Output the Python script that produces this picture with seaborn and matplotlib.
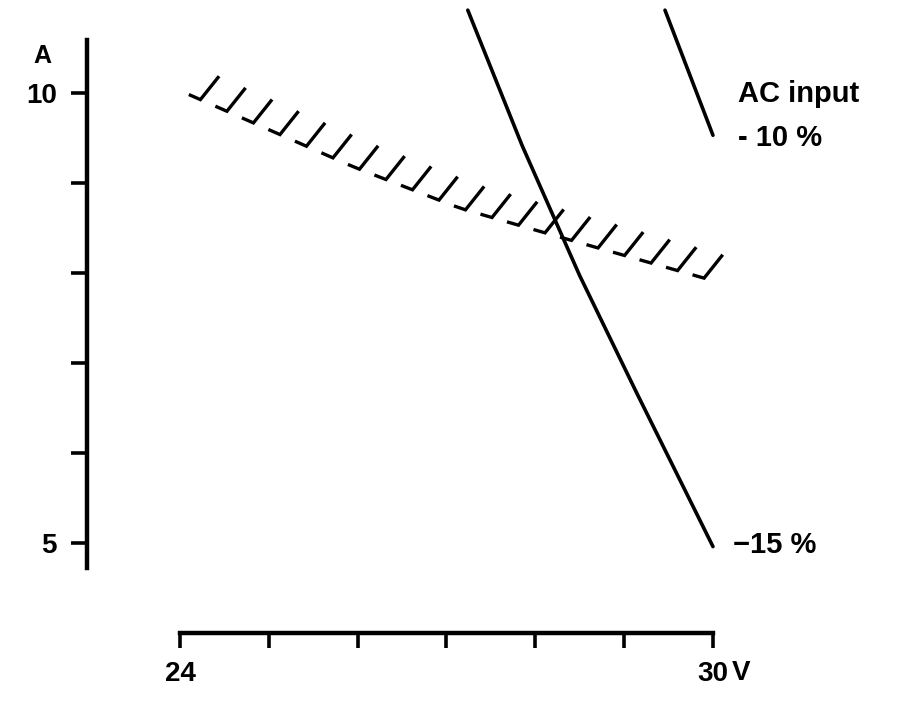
import numpy as np
import pandas as pd
import matplotlib
matplotlib.use("Agg")
import matplotlib.pyplot as plt
import seaborn as sns

# ---- data ----
# hatched limit boundary (current limit vs output voltage)
limit_v = [24.06, 25.95, 27.15, 28.13, 29.91]
limit_a = [10.0, 9.18, 8.72, 8.44, 7.94]

# AC input -15 % curve
m15_v = [27.24, 27.85, 28.28, 28.50, 29.14, 30.00]
m15_a = [10.92, 9.42, 8.46, 7.97, 6.67, 4.96]

# AC input -10 % curve
m10_v = [29.46, 30.00]
m10_a = [10.92, 9.53]

x_ticks = [24, 25, 26, 27, 28, 29, 30]
x_ticklabels = ["24", "", "", "", "", "", "30"]
y_ticks = [5, 6, 7, 8, 9, 10]
y_ticklabels = ["5", "", "", "", "", "10"]

sns.set_theme(style="white")
plt.rcParams["font.family"] = ["Liberation Sans", "DejaVu Sans"]
plt.rcParams["font.weight"] = "bold"
plt.rcParams["text.color"] = "black"
plt.rcParams["xtick.color"] = "black"
plt.rcParams["ytick.color"] = "black"

fig = plt.figure(figsize=(9.02, 7.03), dpi=100)
ax = fig.add_axes([0, 0, 1, 1])
ax.set_facecolor("white")

df15 = pd.DataFrame({"V": m15_v, "A": m15_a})
df10 = pd.DataFrame({"V": m10_v, "A": m10_a})
sns.lineplot(data=df15, x="V", y="A", ax=ax, color="black", lw=2.6, sort=False)
sns.lineplot(data=df10, x="V", y="A", ax=ax, color="black", lw=2.6, sort=False)

# hatch marks along the limit boundary (L-shaped strokes)
feet = np.linspace(24.23, 29.9, 20)
for xf in feet:
    xb = xf - 0.13
    yf = np.interp(xf, limit_v, limit_a)
    yb = np.interp(xb, limit_v, limit_a)
    ax.plot([xb, xf, xf + 0.21, ], [yb, yf, yf + 0.26], color="black", lw=2.4,
            solid_joinstyle="miter", solid_capstyle="butt")

# axes limits mapped to the reference layout
ax.set_xlim(21.974, 32.128)
ax.set_ylim(3.222, 11.033)

for s in ["top", "right"]:
    ax.spines[s].set_visible(False)
ax.spines["left"].set_position(("data", 22.95))
ax.spines["left"].set_bounds(4.72, 10.59)
ax.spines["bottom"].set_position(("data", 4.0))
ax.spines["bottom"].set_bounds(24, 30)
for s in ["left", "bottom"]:
    ax.spines[s].set_color("black")
    ax.spines[s].set_linewidth(3.2)

ax.set_xticks(x_ticks)
ax.set_xticklabels(x_ticklabels)
ax.set_yticks(y_ticks)
ax.set_yticklabels(y_ticklabels)
ax.tick_params(axis="y", direction="out", length=11.5, width=2.6, pad=10,
               labelsize=20, colors="black", left=True)
ax.tick_params(axis="x", direction="out", length=11, width=2.6, pad=9,
               labelsize=20, colors="black", bottom=True)
for lab in ax.get_xticklabels() + ax.get_yticklabels():
    lab.set_fontweight("bold")
    lab.set_color("black")
ax.set_xlabel("")
ax.set_ylabel("")
ax.grid(False)

ax.text(22.447, 10.41, "A", fontsize=18, fontweight="bold", ha="center", va="center", color="black")
ax.text(30.214, 3.555, "V", fontsize=20, fontweight="bold", ha="left", va="center", color="black")
ax.text(30.282, 9.99, "AC input", fontsize=21, fontweight="bold", ha="left", va="center", color="black")
ax.text(30.282, 9.50, "- 10 %", fontsize=21, fontweight="bold", ha="left", va="center", color="black")
ax.text(30.226, 4.978, "\u221215 %", fontsize=21, fontweight="bold", ha="left", va="center", color="black")

fig.savefig("out.png", dpi=100, facecolor="white")
